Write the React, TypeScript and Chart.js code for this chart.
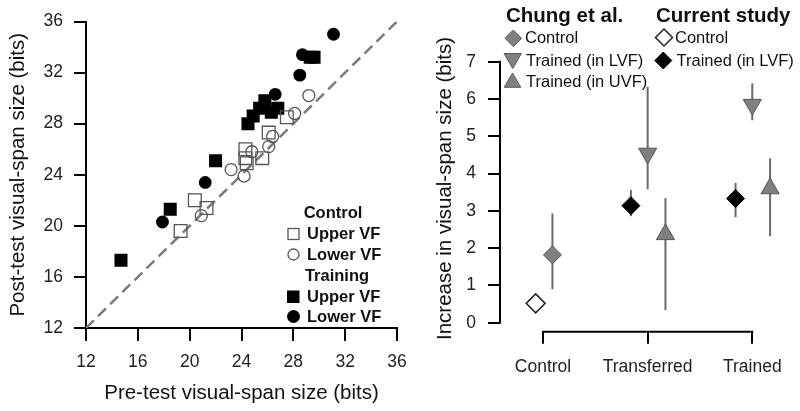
import React, { useEffect, useRef } from 'react';
import { Chart, registerables } from 'chart.js';

Chart.register(...registerables);

const FONT = "'Liberation Sans', Arial, Helvetica, sans-serif";

// ---------- Left panel data (pre-test vs post-test visual-span size, bits) ----------
const axisRange = [12, 36];
const axisStep = 4;
const identityLine = [12, 36];

const ctrlUpperPre = [19.3, 20.4, 21.3, 24.3, 24.3, 24.4, 25.6, 26.1, 27.5];
const ctrlUpperPost = [19.6, 22.0, 21.4, 26.0, 25.3, 24.9, 25.3, 27.3, 28.5];

const ctrlLowerPre = [20.9, 23.2, 24.2, 24.8, 26.1, 26.4, 28.1, 29.2];
const ctrlLowerPost = [20.8, 24.4, 23.9, 25.8, 26.2, 27.0, 28.8, 30.2];

const trainUpperPre = [14.7, 18.5, 22.0, 24.5, 24.9, 25.4, 25.8, 26.3, 26.8, 29.3, 29.6];
const trainUpperPost = [17.3, 21.3, 25.1, 28.0, 28.6, 29.2, 29.8, 28.9, 29.2, 33.2, 33.2];

const trainLowerPre = [17.9, 21.2, 26.6, 28.5, 28.7, 31.1];
const trainLowerPost = [20.3, 23.4, 30.3, 31.8, 33.4, 35.0];

// ---------- Right panel data (increase in visual-span size, bits) ----------
const categories = ['Control', 'Transferred', 'Trained'];
const rightYTicks = [0, 1, 2, 3, 4, 5, 6, 7];

const chungControlCat = [0];
const chungControlMean = [1.82];
const chungControlLo = [0.9];
const chungControlHi = [2.93];

const chungLVFCat = [1, 2];
const chungLVFMean = [4.54, 5.85];
const chungLVFLo = [3.58, 5.43];
const chungLVFHi = [6.33, 6.42];

const chungUVFCat = [1, 2];
const chungUVFMean = [2.37, 3.6];
const chungUVFLo = [0.34, 2.32];
const chungUVFHi = [3.34, 4.41];

const currentControlCat = [0];
const currentControlMean = [0.52];

const currentTrainedCat = [1, 2];
const currentTrainedMean = [3.14, 3.33];
const currentTrainedLo = [2.86, 2.83];
const currentTrainedHi = [3.56, 3.75];

// horizontal dodge of each series around its category
const DODGE = { chungControl: 0.09, chungLVF: 0, chungUVF: 0.17, currentControl: -0.07, currentTrained: -0.16 };

function pairs(xs: number[], ys: number[]) {
  return xs.map((x, i) => ({ x, y: ys[i] }));
}
function catPoints(cats: number[], dodge: number, mean: number[], lo?: number[], hi?: number[]) {
  return cats.map((c, i) => ({ x: c + dodge, y: mean[i], yMin: lo ? lo[i] : null, yMax: hi ? hi[i] : null }));
}

// ---------- drawing helpers for custom legends ----------
function diamond(ctx: CanvasRenderingContext2D, x: number, y: number, r: number, fill: string, stroke: string, lw: number) {
  ctx.beginPath();
  ctx.moveTo(x, y - r);
  ctx.lineTo(x + r, y);
  ctx.lineTo(x, y + r);
  ctx.lineTo(x - r, y);
  ctx.closePath();
  ctx.fillStyle = fill;
  ctx.fill();
  ctx.lineWidth = lw;
  ctx.strokeStyle = stroke;
  ctx.stroke();
}
function triangle(ctx: CanvasRenderingContext2D, x: number, y: number, r: number, down: boolean, fill: string, stroke: string) {
  const s = down ? -1 : 1;
  ctx.beginPath();
  ctx.moveTo(x, y - s * r);
  ctx.lineTo(x + r * Math.sin((2 * Math.PI) / 3), y + s * r / 2);
  ctx.lineTo(x - r * Math.sin((2 * Math.PI) / 3), y + s * r / 2);
  ctx.closePath();
  ctx.fillStyle = fill;
  ctx.fill();
  ctx.lineWidth = 1;
  ctx.strokeStyle = stroke;
  ctx.stroke();
}

const leftLegendPlugin = {
  id: 'leftLegend',
  afterDraw(chart: any) {
    const ctx: CanvasRenderingContext2D = chart.ctx;
    ctx.save();
    ctx.textBaseline = 'middle';
    ctx.fillStyle = '#111';
    ctx.font = `bold 16.5px ${FONT}`;
    ctx.textAlign = 'center';
    ctx.fillText('Control', 333, 213);
    ctx.fillText('Training', 337, 276);
    ctx.textAlign = 'left';
    ctx.fillText('Upper VF', 307, 234);
    ctx.fillText('Lower VF', 307, 255);
    ctx.fillText('Upper VF', 307, 297);
    ctx.fillText('Lower VF', 307, 317);
    // markers
    ctx.lineWidth = 1.3;
    ctx.strokeStyle = '#555';
    ctx.strokeRect(288, 228.5, 11, 11);
    ctx.beginPath();
    ctx.arc(293.5, 254.5, 5.5, 0, Math.PI * 2);
    ctx.stroke();
    ctx.fillStyle = '#000';
    ctx.fillRect(287, 290.5, 12.5, 12.5);
    ctx.beginPath();
    ctx.arc(293.5, 316.5, 6.5, 0, Math.PI * 2);
    ctx.fill();
    ctx.restore();
  },
};

const rightLegendPlugin = {
  id: 'rightLegend',
  afterDraw(chart: any) {
    const ctx: CanvasRenderingContext2D = chart.ctx;
    ctx.save();
    ctx.textBaseline = 'middle';
    ctx.textAlign = 'left';
    ctx.fillStyle = '#111';
    ctx.font = `bold 20.5px ${FONT}`;
    ctx.fillText('Chung et al.', 106, 16);
    ctx.fillText('Current study', 256, 16);
    ctx.font = `16.5px ${FONT}`;
    ctx.fillStyle = '#111';
    ctx.fillText('Control', 125, 38.5);
    ctx.fillText('Trained (in LVF)', 126, 61);
    ctx.fillText('Trained (in UVF)', 126, 82.5);
    ctx.fillText('Control', 275, 38.5);
    ctx.fillText('Trained (in LVF)', 276.5, 61);
    diamond(ctx, 113.3, 38.3, 8.3, '#808080', '#555', 1);
    triangle(ctx, 112.7, 58.5, 10, true, '#808080', '#555');
    triangle(ctx, 112.5, 82.5, 9.5, false, '#808080', '#555');
    diamond(ctx, 264, 37.5, 8.5, '#fff', '#222', 1.5);
    diamond(ctx, 263.3, 60.5, 8.5, '#000', '#000', 1);
    ctx.restore();
  },
};

const errorBarPlugin = {
  id: 'errorBars',
  beforeDatasetsDraw(chart: any) {
    const ctx: CanvasRenderingContext2D = chart.ctx;
    const xs = chart.scales.x;
    const ys = chart.scales.y;
    ctx.save();
    ctx.strokeStyle = '#6a6a6a';
    ctx.lineWidth = 2;
    chart.data.datasets.forEach((ds: any) => {
      ds.data.forEach((p: any) => {
        if (p.yMin == null || p.yMax == null) return;
        const x = xs.getPixelForValue(p.x);
        ctx.beginPath();
        ctx.moveTo(x, ys.getPixelForValue(p.yMin));
        ctx.lineTo(x, ys.getPixelForValue(p.yMax));
        ctx.stroke();
      });
    });
    ctx.restore();
  },
};

const rightAxesPlugin = {
  id: 'rightAxes',
  afterDraw(chart: any) {
    const ctx: CanvasRenderingContext2D = chart.ctx;
    const xs = chart.scales.x;
    const ys = chart.scales.y;
    const area = chart.chartArea;
    ctx.save();
    ctx.strokeStyle = '#000';
    ctx.lineWidth = 2;
    ctx.beginPath();
    ctx.moveTo(area.left, ys.getPixelForValue(rightYTicks[0]) + 1);
    ctx.lineTo(area.left, ys.getPixelForValue(rightYTicks[rightYTicks.length - 1]) - 1);
    ctx.stroke();
    ctx.beginPath();
    ctx.moveTo(xs.getPixelForValue(0) - 1, area.bottom);
    ctx.lineTo(xs.getPixelForValue(categories.length - 1) + 1, area.bottom);
    ctx.stroke();
    ctx.restore();
  },
};

function leftConfig(): any {
  const openStyle = { backgroundColor: 'rgba(0,0,0,0)', borderColor: '#555', borderWidth: 1.3 };
  return {
    type: 'scatter',
    data: {
      datasets: [
        { label: 'Control Upper VF', data: pairs(ctrlUpperPre, ctrlUpperPost), pointStyle: 'rect', pointRadius: 9, ...openStyle },
        { label: 'Control Lower VF', data: pairs(ctrlLowerPre, ctrlLowerPost), pointStyle: 'circle', pointRadius: 6, ...openStyle },
        { label: 'Training Upper VF', data: pairs(trainUpperPre, trainUpperPost), pointStyle: 'rect', pointRadius: 9.2, backgroundColor: '#000', borderColor: '#000', borderWidth: 0 },
        { label: 'Training Lower VF', data: pairs(trainLowerPre, trainLowerPost), pointStyle: 'circle', pointRadius: 6.4, backgroundColor: '#000', borderColor: '#000', borderWidth: 0 },
        {
          label: 'identity',
          data: pairs(identityLine, identityLine),
          showLine: true,
          pointRadius: 0,
          borderColor: '#7a7a7a',
          borderWidth: 2.5,
          borderDash: [11, 6],
          order: 10,
        },
      ],
    },
    options: {
      responsive: false,
      animation: false,
      layout: { padding: { top: 19, right: 23, left: 0, bottom: 0 } },
      plugins: { legend: { display: false }, tooltip: { enabled: false } },
      scales: {
        x: {
          type: 'linear',
          min: axisRange[0],
          max: axisRange[1],
          ticks: { stepSize: axisStep, color: '#222', font: { family: FONT, size: 17.5 }, padding: 11, maxRotation: 0 },
          grid: { drawOnChartArea: false, tickLength: 13, color: '#000', lineWidth: 2 },
          border: { display: true, color: '#000', width: 2 },
          title: { display: true, text: 'Pre-test visual-span size (bits)', color: '#111', font: { family: FONT, size: 20.5 }, padding: { top: 0, bottom: 5.7 } },
          afterFit: (s: any) => { s.height = 83; },
        },
        y: {
          type: 'linear',
          min: axisRange[0],
          max: axisRange[1],
          ticks: { stepSize: axisStep, color: '#222', font: { family: FONT, size: 17.5 }, padding: 11 },
          grid: { drawOnChartArea: false, tickLength: 12, color: '#000', lineWidth: 2 },
          border: { display: true, color: '#000', width: 2 },
          title: { display: true, text: 'Post-test visual-span size (bits)', color: '#111', font: { family: FONT, size: 20.5 }, padding: { top: 5.7, bottom: 0 } },
          afterFit: (s: any) => { s.width = 86; },
        },
      },
    },
    plugins: [leftLegendPlugin],
  };
}

function rightConfig(): any {
  const gray = { backgroundColor: '#808080', borderColor: '#555', borderWidth: 1 };
  return {
    type: 'scatter',
    data: {
      datasets: [
        { label: 'Current Control', data: catPoints(currentControlCat, DODGE.currentControl, currentControlMean), pointStyle: 'rectRot', pointRadius: 9.5, backgroundColor: '#fff', borderColor: '#222', borderWidth: 1.5 },
        { label: 'Current Trained (in LVF)', data: catPoints(currentTrainedCat, DODGE.currentTrained, currentTrainedMean, currentTrainedLo, currentTrainedHi), pointStyle: 'rectRot', pointRadius: 9, backgroundColor: '#000', borderColor: '#000', borderWidth: 1 },
        { label: 'Chung Control', data: catPoints(chungControlCat, DODGE.chungControl, chungControlMean, chungControlLo, chungControlHi), pointStyle: 'rectRot', pointRadius: 9, ...gray },
        { label: 'Chung Trained (in LVF)', data: catPoints(chungLVFCat, DODGE.chungLVF, chungLVFMean, chungLVFLo, chungLVFHi), pointStyle: 'triangle', rotation: 180, pointRadius: 10.5, ...gray },
        { label: 'Chung Trained (in UVF)', data: catPoints(chungUVFCat, DODGE.chungUVF, chungUVFMean, chungUVFLo, chungUVFHi), pointStyle: 'triangle', pointRadius: 10.5, ...gray },
      ],
    },
    options: {
      responsive: false,
      animation: false,
      layout: { padding: { top: 45.3, right: 5, left: 0, bottom: 0 } },
      plugins: { legend: { display: false }, tooltip: { enabled: false } },
      scales: {
        x: {
          type: 'linear',
          min: -0.411,
          max: 2.346,
          afterBuildTicks: (s: any) => { s.ticks = categories.map((_, i) => ({ value: i })); },
          ticks: { autoSkip: false, maxRotation: 0, color: '#222', font: { family: FONT, size: 17.5 }, padding: 12.8, callback: (v: any) => categories[v] },
          grid: { drawOnChartArea: false, tickLength: 12, color: '#000', lineWidth: 2 },
          border: { display: false },
          afterFit: (s: any) => { s.height = 79.3; },
        },
        y: {
          type: 'linear',
          min: -0.24,
          max: 7.44,
          afterBuildTicks: (s: any) => { s.ticks = rightYTicks.map((v) => ({ value: v })); },
          ticks: { autoSkip: false, color: '#222', font: { family: FONT, size: 17.5 }, padding: 12 },
          grid: { drawOnChartArea: false, tickLength: 12, color: '#000', lineWidth: 2 },
          border: { display: false },
          title: { display: true, text: 'Increase in visual-span size (bits)', color: '#111', font: { family: FONT, size: 20.5 }, padding: { top: 32.7, bottom: 0 } },
          afterFit: (s: any) => { s.width = 100; },
        },
      },
    },
    plugins: [errorBarPlugin, rightAxesPlugin, rightLegendPlugin],
  };
}

export default function App() {
  const leftRef = useRef<HTMLCanvasElement>(null);
  const rightRef = useRef<HTMLCanvasElement>(null);

  useEffect(() => {
    const c1 = new Chart(leftRef.current as HTMLCanvasElement, leftConfig());
    const c2 = new Chart(rightRef.current as HTMLCanvasElement, rightConfig());
    return () => {
      c1.destroy();
      c2.destroy();
    };
  }, []);

  return (
    <div style={{ position: 'fixed', left: 0, top: 0, width: 800, height: 411, background: '#fff', overflow: 'hidden' }}>
      <canvas ref={leftRef} width={420} height={411} style={{ position: 'absolute', left: 0, top: 0, width: 420, height: 411 }} />
      <canvas ref={rightRef} width={400} height={411} style={{ position: 'absolute', left: 400, top: 0, width: 400, height: 411 }} />
    </div>
  );
}
